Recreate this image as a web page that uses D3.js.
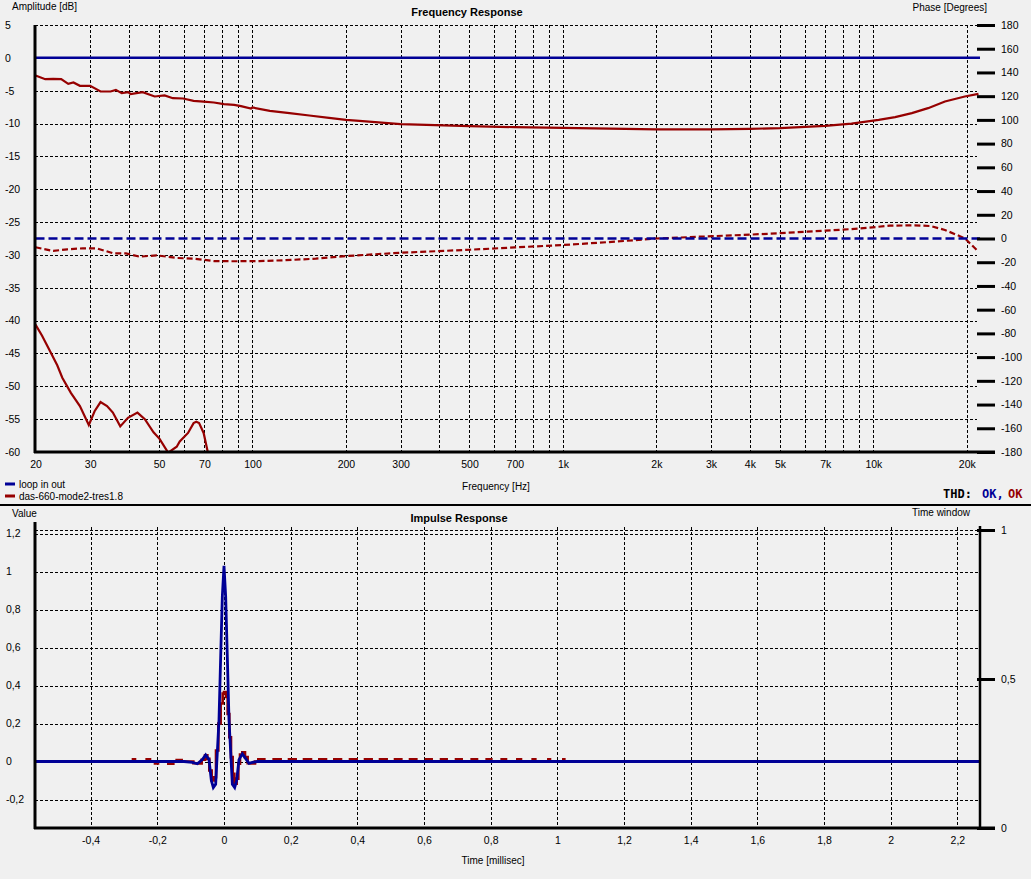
<!DOCTYPE html>
<html><head><meta charset="utf-8">
<script src="https://cdn.jsdelivr.net/npm/d3@7"></script>
<style>
body{margin:0;background:#f0f0f0;overflow:hidden;}
text{font-family:"Liberation Sans",Arial,sans-serif;fill:#000;}
</style></head><body>
<svg id="c" width="1031" height="879"></svg>
<script>
// ---------- DATA ----------
const seriesNames = ["loop in out", "das-660-mode2-tres1.8"];
const seriesColors = ["#000096", "#960000"];

const freqTickValues = [20,30,50,70,100,200,300,500,700,1000,2000,3000,4000,5000,7000,10000,20000];
const freqTickLabels = ["20","30","50","70","100","200","300","500","700","1k","2k","3k","4k","5k","7k","10k","20k"];
const freqGridValues = [30,40,50,60,70,80,90,100,200,300,400,500,600,700,800,900,1000,2000,3000,4000,5000,6000,7000,8000,9000,10000,20000];
const ampTickValues = [5,0,-5,-10,-15,-20,-25,-30,-35,-40,-45,-50,-55,-60];
const phaseTickValues = [180,160,140,120,100,80,60,40,20,0,-20,-40,-60,-80,-100,-120,-140,-160,-180];

// loop in out (reference)
const loopFreq = [20, 22050];
const loopAmp = [0, 0];
const loopPhase = [0, 0];

// das-660 amplitude
const dutFreq = [20,21.5,22.8,24.2,25.5,26.5,27.8,30,32.4,34.9,36.3,37.9,39.8,40.5,44.3,48.4,52.1,55.4,59.8,64.6,69.6,75.1,80.9,87.3,91.8,98.9,100,113.7,131.6,152.4,176.4,200,221,300,500,700,1000,2000,3000,4000,5000,7000,8500,10400,11750,13300,15000,17000,19700,21800];
const dutAmp = [-2.69,-3.25,-3.2,-3.25,-3.96,-3.75,-4.26,-4.26,-5.12,-5.12,-4.87,-5.38,-5.22,-5.53,-5.22,-5.88,-5.73,-6.14,-6.19,-6.54,-6.65,-6.8,-7.05,-7.15,-7.35,-7.71,-7.56,-8.07,-8.42,-8.78,-9.13,-9.44,-9.59,-10.1,-10.4,-10.55,-10.65,-10.9,-10.9,-10.8,-10.7,-10.35,-10.0,-9.44,-9.03,-8.42,-7.66,-6.65,-5.89,-5.48];

// das-660 phase
const dutPhaseFreq = [20,22.8,25.3,28.4,31.5,35.6,39.1,43.3,49.1,57,64.6,75.1,87.3,105,125,160,200,300,500,700,1000,1500,2000,2740,3800,4950,7000,8960,11300,13600,15300,17000,19700,21800];
const dutPhase = [-7.4,-10.5,-9.1,-8.3,-8.3,-12.5,-12.5,-15.3,-14.2,-16.4,-17,-19,-19.2,-19,-18.4,-17,-14.8,-12,-9.5,-7.5,-5.5,-2.5,0,1.5,3,4.4,6.6,8.3,10.8,11.1,10.5,7.2,0.2,-11.1];

// das-660 low-frequency curve
const distFreq = [20,21,22.2,23.5,24.4,26,27.8,29.7,31,32.4,34,35.5,37.5,39.7,42.6,45,48,50.2,53.5,57,58.3,62,64.6,65.9,67.3,69.6,72];
const distAmp = [-40.6,-42.3,-44.5,-46.8,-48.7,-51,-53,-55.9,-53.8,-52.4,-53,-54,-56.1,-54.8,-54,-55,-57,-58,-60.1,-59.2,-58.4,-57.1,-55.6,-55.4,-55.6,-57.1,-60.3];

// impulse
const timeTickValues = [-0.4,-0.2,0,0.2,0.4,0.6,0.8,1,1.2,1.4,1.6,1.8,2,2.2];
const timeTickLabels = ["-0,4","-0,2","0","0,2","0,4","0,6","0,8","1","1,2","1,4","1,6","1,8","2","2,2"];
const valueTickValues = [1.2,1,0.8,0.6,0.4,0.2,0,-0.2];
const valueTickLabels = ["1,2","1","0,8","0,6","0,4","0,2","0","-0,2"];
const windowTickValues = [1,0.5,0];
const windowTickLabels = ["1","0,5","0"];
const windowT = [-0.567, 2.268];
const windowV = [1, 1];

const loopImpT = [-0.567,-0.12,-0.095,-0.08,-0.065,-0.055,-0.045,-0.038,-0.032,-0.025,-0.02,-0.015,-0.01,-0.005,0,0.005,0.01,0.015,0.02,0.025,0.032,0.038,0.045,0.055,0.065,0.075,0.085,0.1,2.268];
const loopImpV = [0,0,-0.005,-0.012,0.01,0.035,0.01,-0.10,-0.137,-0.12,0.05,0.22,0.55,0.87,1.03,0.87,0.55,0.22,0.05,-0.12,-0.137,-0.10,0.01,0.04,0.015,-0.01,-0.005,0,0];

const dutImpT = [-0.277,-0.267,-0.232,-0.222,-0.207,-0.198,-0.167,-0.152,-0.142,-0.127,
  -0.092,-0.077,-0.067,-0.057,-0.050,-0.044,-0.037,-0.030,-0.024,-0.017,-0.010,-0.004,0,0.006,0.011,0.016,0.021,0.026,0.031,0.038,0.043,0.048,0.055,0.063,0.071,0.080,0.093,
  0.103,0.121,0.149,0.17,0.195,0.215,0.240,0.261,0.286,0.306,0.331,0.351,0.378,0.398,0.423,0.443,0.468,0.488,0.513,0.532,0.558,0.577,0.606,0.623,0.651,0.668,0.696,0.713,0.743,0.759,0.788,0.802,0.833,0.846,0.880,0.891,0.926,0.934,0.973,0.978,1.018,1.021];
const dutImpV = [0.011,0,0.011,0,-0.01,0,-0.012,0,0.008,0,
  -0.009,-0.01,0.009,0.032,0.014,-0.047,-0.10,-0.083,0.058,0.2,0.305,0.358,0.365,0.34,0.25,0.128,0.023,-0.065,-0.117,-0.09,-0.012,0.037,0.049,0.023,-0.009,-0.01,0,
  0.011,0,0.011,0,0.011,0,0.011,0,0.011,0,0.011,0,0.011,0,0.011,0,0.011,0,0.011,0,0.011,0,0.011,0,0.011,0,0.011,0,0.011,0,0.011,0,0.011,0,0.011,0,0.011,0,0.011,0,0.011,0];

// ---------- DRAW ----------
const svg = d3.select("#c");
svg.append("rect").attr("width",1031).attr("height",879).attr("fill","#f0f0f0");
const zip = (a,b) => a.map((v,i)=>[v,b[i]]);
const FONT = 10.5;

// ===== TOP CHART =====
const T = {l:35, r:980, t:25, b:452};
const xF = d3.scaleLog().domain([20,22050]).range([35.5,980]);
const yA = d3.scaleLinear().domain([-60,5]).range([T.b,T.t]);
const yP = d3.scaleLinear().domain([-180,180]).range([T.b,T.t]);

svg.append("clipPath").attr("id","clipTop").append("rect")
  .attr("x",T.l).attr("y",T.t-2).attr("width",T.r-T.l).attr("height",T.b-T.t+2);

const gTop = svg.append("g");
// grid
gTop.selectAll(".vg").data(freqGridValues).join("line")
  .attr("x1",d=>Math.round(xF(d))+0.5).attr("x2",d=>Math.round(xF(d))+0.5)
  .attr("y1",T.t).attr("y2",T.b).attr("stroke","#000").attr("stroke-width",1).attr("stroke-dasharray","3,2");
gTop.selectAll(".hg").data(ampTickValues.filter(d=>d>-60)).join("line")
  .attr("x1",T.l).attr("x2",977).attr("y1",d=>Math.round(yA(d))+0.5).attr("y2",d=>Math.round(yA(d))+0.5)
  .attr("stroke","#000").attr("stroke-width",1).attr("stroke-dasharray","3,2");

// curves
const lineA = d3.line().x(d=>xF(d[0])).y(d=>yA(d[1]));
const lineP = d3.line().x(d=>xF(d[0])).y(d=>yP(d[1]));
const cTop = gTop.append("g").attr("clip-path","url(#clipTop)");
cTop.append("path").datum(zip(dutPhaseFreq,dutPhase)).attr("d",lineP).attr("fill","none")
  .attr("stroke",seriesColors[1]).attr("stroke-width",2.2).attr("stroke-dasharray","6,3");
cTop.append("path").datum(zip(loopFreq,loopPhase)).attr("d",lineP).attr("fill","none")
  .attr("stroke",seriesColors[0]).attr("stroke-width",2.5).attr("stroke-dasharray","9,4");
cTop.append("path").datum(zip(distFreq,distAmp)).attr("d",lineA).attr("fill","none")
  .attr("stroke",seriesColors[1]).attr("stroke-width",2.2);
cTop.append("path").datum(zip(dutFreq,dutAmp)).attr("d",lineA).attr("fill","none")
  .attr("stroke",seriesColors[1]).attr("stroke-width",2.2);
cTop.append("path").datum(zip(loopFreq,loopAmp)).attr("d",lineA).attr("fill","none")
  .attr("stroke",seriesColors[0]).attr("stroke-width",2.5);

// axes lines
gTop.append("line").attr("x1",T.l).attr("x2",T.l).attr("y1",T.t).attr("y2",T.b+1).attr("stroke","#000").attr("stroke-width",3);
gTop.append("line").attr("x1",T.l-1).attr("x2",995).attr("y1",T.b).attr("y2",T.b).attr("stroke","#000").attr("stroke-width",3);

// left axis labels
const axL = gTop.append("g").attr("transform",`translate(${T.l},0)`)
  .call(d3.axisLeft(yA).tickValues(ampTickValues).tickSize(0).tickFormat(d=>String(d)));
axL.select(".domain").remove();
axL.selectAll("text").attr("x",5-T.l).attr("text-anchor","start").style("font-size",FONT+"px").style("font-family","Liberation Sans, Arial");

// right axis ticks + labels
const axR = gTop.append("g").attr("transform","translate(977,0)")
  .call(d3.axisRight(yP).tickValues(phaseTickValues).tickSize(18).tickPadding(6).tickFormat(d=>String(d)));
axR.select(".domain").remove();
axR.selectAll("line").attr("stroke","#000").attr("stroke-width",3);
axR.selectAll("text").style("font-size",FONT+"px").style("font-family","Liberation Sans, Arial");

// bottom axis labels
const axB = gTop.append("g").attr("transform",`translate(0,${T.b})`)
  .call(d3.axisBottom(xF).tickValues(freqTickValues).tickSize(0).tickPadding(9).tickFormat((d,i)=>freqTickLabels[i]));
axB.select(".domain").remove();
axB.selectAll("text").style("font-size",FONT+"px").style("font-family","Liberation Sans, Arial");

// titles
svg.append("text").attr("x",12).attr("y",10).style("font-size","10px").text("Amplitude [dB]");
svg.append("text").attr("x",987).attr("y",11).attr("text-anchor","end").style("font-size","10px").text("Phase [Degrees]");
svg.append("text").attr("x",467).attr("y",16).attr("text-anchor","middle").style("font-size","11px").style("font-weight","bold").text("Frequency Response");
svg.append("text").attr("x",496).attr("y",490).attr("text-anchor","middle").style("font-size","10px").text("Frequency [Hz]");

// legend
const leg = svg.append("g");
seriesNames.forEach((n,i)=>{
  const y = 484 + i*12;
  leg.append("line").attr("x1",5).attr("x2",15).attr("y1",y).attr("y2",y).attr("stroke",seriesColors[i]).attr("stroke-width",3);
  leg.append("text").attr("x",19).attr("y",y+4).style("font-size","10px").text(n);
});
// THD
const thd = svg.append("text").attr("x",943).attr("y",498).style("font-family","DejaVu Sans Mono, monospace").style("font-size","12px").style("font-weight","bold");
thd.append("tspan").attr("fill","#000").text("THD: ");
thd.append("tspan").attr("fill",seriesColors[0]).style("fill",seriesColors[0]).attr("x",982).text("OK,");
thd.append("tspan").attr("fill",seriesColors[1]).style("fill",seriesColors[1]).attr("x",1008).text("OK");

// separator
svg.append("line").attr("x1",0).attr("x2",1031).attr("y1",505).attr("y2",505).attr("stroke","#000").attr("stroke-width",2);

// ===== BOTTOM CHART =====
const B = {l:35, r:980, t:524, b:828};
const xT = d3.scaleLinear().domain([-0.567,2.268]).range([B.l,B.r]);
const yV = d3.scaleLinear().domain([-0.35,1.25]).range([B.b,B.t]);
const yW = d3.scaleLinear().domain([0,1]).range([B.b,530]);

const gBot = svg.append("g");
gBot.selectAll(".vg").data(timeTickValues).join("line")
  .attr("x1",d=>Math.round(xT(d))+0.5).attr("x2",d=>Math.round(xT(d))+0.5)
  .attr("y1",527).attr("y2",B.b).attr("stroke","#000").attr("stroke-width",1).attr("stroke-dasharray","3,2");
gBot.selectAll(".hg").data(valueTickValues).join("line")
  .attr("x1",B.l).attr("x2",B.r).attr("y1",d=>Math.round(yV(d))+0.5).attr("y2",d=>Math.round(yV(d))+0.5)
  .attr("stroke","#000").attr("stroke-width",1).attr("stroke-dasharray","3,2");
// time window
gBot.append("path").datum(zip(windowT,windowV))
  .attr("d",d3.line().x(d=>xT(d[0])).y(d=>Math.round(yW(d[1]))+0.5))
  .attr("fill","none").attr("stroke","#000").attr("stroke-width",1).attr("stroke-dasharray","3,2");

svg.append("clipPath").attr("id","clipBot").append("rect")
  .attr("x",B.l).attr("y",B.t).attr("width",B.r-B.l).attr("height",B.b-B.t);
const cBot = gBot.append("g").attr("clip-path","url(#clipBot)");
const lineI = d3.line().x(d=>xT(d[0])).y(d=>yV(d[1]));
cBot.append("path").datum(zip(dutImpT,dutImpV)).attr("d",lineI.curve(d3.curveStepAfter)).attr("fill","none")
  .attr("stroke",seriesColors[1]).attr("stroke-width",2.6);
cBot.append("path").datum(zip(loopImpT,loopImpV)).attr("d",d3.line().x(d=>xT(d[0])).y(d=>yV(d[1]))).attr("fill","none")
  .attr("stroke",seriesColors[0]).attr("stroke-width",2.8);

// axes lines
gBot.append("line").attr("x1",B.l).attr("x2",B.l).attr("y1",522).attr("y2",B.b+1).attr("stroke","#000").attr("stroke-width",3);
gBot.append("line").attr("x1",B.l-1).attr("x2",995).attr("y1",B.b).attr("y2",B.b).attr("stroke","#000").attr("stroke-width",3);
gBot.append("line").attr("x1",B.r).attr("x2",B.r).attr("y1",526).attr("y2",B.b).attr("stroke","#000").attr("stroke-width",2.5);

const bxL = gBot.append("g").attr("transform",`translate(${B.l},0)`)
  .call(d3.axisLeft(yV).tickValues(valueTickValues).tickSize(0).tickFormat((d,i)=>valueTickLabels[i]));
bxL.select(".domain").remove();
bxL.selectAll("text").attr("x",6-B.l).attr("text-anchor","start").style("font-size",FONT+"px").style("font-family","Liberation Sans, Arial");

const bxR = gBot.append("g").attr("transform",`translate(${B.r-3},0)`)
  .call(d3.axisRight(yW).tickValues(windowTickValues).tickSize(18).tickPadding(6).tickFormat((d,i)=>windowTickLabels[i]));
bxR.select(".domain").remove();
bxR.selectAll("line").attr("stroke","#000").attr("stroke-width",3);
bxR.selectAll("text").style("font-size",FONT+"px").style("font-family","Liberation Sans, Arial");

const bxB = gBot.append("g").attr("transform",`translate(0,${B.b})`)
  .call(d3.axisBottom(xT).tickValues(timeTickValues).tickSize(0).tickPadding(9).tickFormat((d,i)=>timeTickLabels[i]));
bxB.select(".domain").remove();
bxB.selectAll("text").style("font-size",FONT+"px").style("font-family","Liberation Sans, Arial");

svg.append("text").attr("x",12).attr("y",517).style("font-size","10px").text("Value");
svg.append("text").attr("x",970).attr("y",516).attr("text-anchor","end").style("font-size","10px").text("Time window");
svg.append("text").attr("x",459).attr("y",522).attr("text-anchor","middle").style("font-size","11px").style("font-weight","bold").text("Impulse Response");
svg.append("text").attr("x",493).attr("y",864).attr("text-anchor","middle").style("font-size","10px").text("Time [millisec]");
</script>
</body></html>
